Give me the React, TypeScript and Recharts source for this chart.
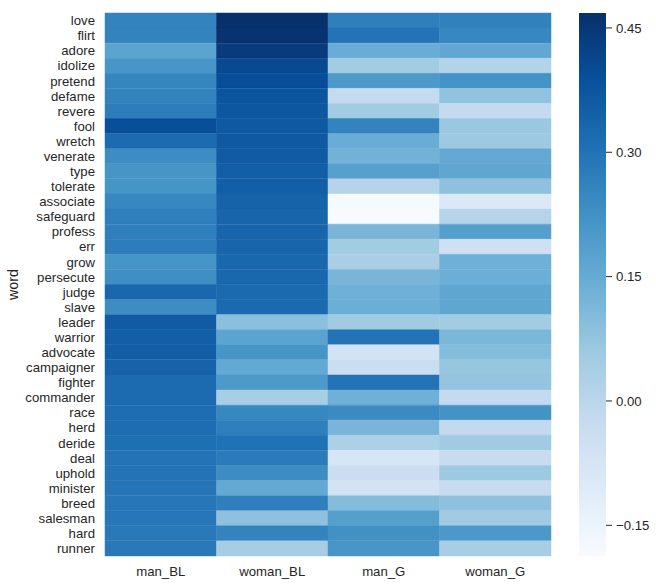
import { BarChart, Bar, XAxis, YAxis, Cell } from "recharts"

const words = [
  "love", "flirt", "adore", "idolize", "pretend", "defame", "revere", "fool",
  "wretch", "venerate", "type", "tolerate", "associate", "safeguard", "profess", "err",
  "grow", "persecute", "judge", "slave", "leader", "warrior", "advocate", "campaigner",
  "fighter", "commander", "race", "herd", "deride", "deal", "uphold", "minister",
  "breed", "salesman", "hard", "runner"
]

const columns = ["man_BL", "woman_BL", "man_G", "woman_G"]

const manBL = [
  0.26, 0.26, 0.17, 0.21, 0.255, 0.26, 0.275, 0.39,
  0.32, 0.235, 0.215, 0.215, 0.25, 0.27, 0.27, 0.275,
  0.215, 0.23, 0.33, 0.235, 0.36, 0.35, 0.35, 0.34,
  0.32, 0.32, 0.315, 0.315, 0.31, 0.3, 0.3, 0.295,
  0.29, 0.29, 0.285, 0.285
]

const womanBL = [
  0.468, 0.46, 0.44, 0.405, 0.395, 0.375, 0.37, 0.365,
  0.365, 0.36, 0.35, 0.35, 0.34, 0.335, 0.335, 0.335,
  0.33, 0.33, 0.325, 0.325, 0.09, 0.17, 0.215, 0.155,
  0.2, 0.04, 0.25, 0.27, 0.305, 0.28, 0.235, 0.155,
  0.27, 0.085, 0.26, 0.045
]

const manG = [
  0.27, 0.3, 0.145, 0.05, 0.2, -0.02, 0.05, 0.26,
  0.145, 0.13, 0.18, 0.01, -0.182, -0.187, 0.12, 0.05,
  0.035, 0.12, 0.135, 0.14, 0.055, 0.3, -0.065, -0.04,
  0.3, 0.135, 0.24, 0.12, 0.03, -0.08, -0.04, -0.065,
  0.1, 0.185, 0.225, 0.21
]

const womanG = [
  0.265, 0.25, 0.16, 0.015, 0.22, 0.08, -0.02, 0.065,
  0.06, 0.155, 0.165, 0.085, -0.095, 0.01, 0.185, -0.05,
  0.135, 0.14, 0.165, 0.165, 0.05, 0.115, 0.1, 0.07,
  0.075, -0.02, 0.22, -0.015, 0.055, -0.03, 0.06, -0.025,
  0.085, 0.055, 0.205, 0.04
]

const colorbarTicks = [-0.15, 0, 0.15, 0.3, 0.45]

// matplotlib "Blues"
const bluesStops = [
  "#f7fbff", "#deebf7", "#c6dbef", "#9ecae1", "#6baed6",
  "#4292c6", "#2171b5", "#08519c", "#08306b"
]

const series = [manBL, womanBL, manG, womanG]
const allValues = series.flat()
const vmin = Math.min(...allValues)
const vmax = Math.max(...allValues)

function hexToRgb(h: string) {
  return [1, 3, 5].map(i => parseInt(h.slice(i, i + 2), 16))
}

function blues(v: number) {
  let t = (v - vmin) / (vmax - vmin)
  t = Math.max(0, Math.min(1, t))
  const pos = t * (bluesStops.length - 1)
  const i = Math.min(Math.floor(pos), bluesStops.length - 2)
  const f = pos - i
  const a = hexToRgb(bluesStops[i])
  const b = hexToRgb(bluesStops[i + 1])
  const c = a.map((x, k) => Math.round(x + (b[k] - x) * f))
  return `rgb(${c[0]},${c[1]},${c[2]})`
}

const rows = words.map(w => ({ word: w, c0: 1, c1: 1, c2: 1, c3: 1 }))

const font = '"Liberation Sans", Arial, sans-serif'
const textColor = "#262626"
const tickSize = 13.2

const fmt = (v: number) => (v < 0 ? "\u2212" + Math.abs(v).toFixed(2) : v.toFixed(2))

export default function App() {
  return (
    <div style={{ position: "absolute", left: 0, top: 0, width: 656, height: 585, background: "#fff", fontFamily: font }}>
      <div style={{ position: "absolute", left: 0, top: 0 }}>
        <BarChart
          width={656}
          height={585}
          data={rows}
          layout="vertical"
          barCategoryGap={0}
          margin={{ top: 13, right: 105, bottom: 0, left: 0 }}
        >
          <XAxis
            type="number"
            domain={[0, 4]}
            ticks={[0.5, 1.5, 2.5, 3.5]}
            tickFormatter={(v: number) => columns[Math.floor(v)]}
            axisLine={false}
            tickLine={false}
            tickMargin={5}
            height={29}
            fontSize={tickSize}
            tick={{ fill: textColor, fontSize: tickSize, fontFamily: font }}
          />
          <YAxis
            type="category"
            dataKey="word"
            width={105}
            interval={0}
            axisLine={false}
            tickLine={false}
            tickMargin={4}
            fontSize={tickSize}
            tick={{ fill: textColor, fontSize: tickSize, fontFamily: font }}
            label={{
              content: (props: any) => {
                const vb = props.viewBox || { x: 0, y: 13, height: 543 }
                const cy = vb.y + vb.height / 2
                return (
                  <text
                    x={18}
                    y={cy}
                    transform={`rotate(-90, 18, ${cy})`}
                    textAnchor="middle"
                    fill={textColor}
                    style={{ fontSize: 14.3, fontFamily: font }}
                  >
                    word
                  </text>
                )
              }
            }}
          />
          {series.map((vals, k) => (
            <Bar key={k} dataKey={`c${k}`} stackId="heat" isAnimationActive={false}>
              {vals.map((v, i) => (
                <Cell key={i} fill={blues(v)} stroke={blues(v)} strokeWidth={0.5} />
              ))}
            </Bar>
          ))}
        </BarChart>
      </div>
      <div style={{ position: "absolute", left: 579, top: 0 }}>
        <BarChart
          width={77}
          height={585}
          data={[{ name: "cb", range: [vmin, vmax] }]}
          barCategoryGap={0}
          margin={{ top: 13, right: 0, bottom: 29, left: 0 }}
        >
          <defs>
            <linearGradient id="bluesGrad" x1="0" y1="1" x2="0" y2="0">
              {bluesStops.map((c, i) => (
                <stop key={i} offset={`${(i / (bluesStops.length - 1)) * 100}%`} stopColor={c} />
              ))}
            </linearGradient>
          </defs>
          <XAxis dataKey="name" hide />
          <YAxis
            type="number"
            orientation="right"
            domain={[vmin, vmax]}
            ticks={colorbarTicks}
            tickFormatter={fmt}
            width={50}
            axisLine={false}
            tickLine={{ stroke: textColor }}
            tickSize={6}
            tickMargin={4}
            fontSize={tickSize}
            tick={{ fill: textColor, fontSize: tickSize, fontFamily: font }}
          />
          <Bar dataKey="range" fill="url(#bluesGrad)" isAnimationActive={false} />
        </BarChart>
      </div>
    </div>
  )
}
